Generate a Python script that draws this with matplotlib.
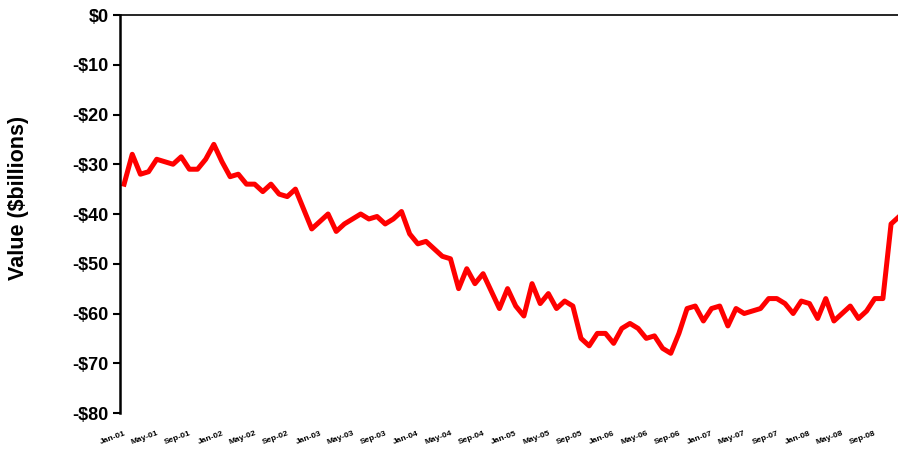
import numpy as np
import matplotlib.pyplot as plt

plt.rcParams['font.family'] = ['Liberation Sans', 'DejaVu Sans']

# monthly values, Jan-01 .. Dec-08 ($ billions)
values = [
    -34, -28, -32, -31.5, -29, -29.5, -30, -28.5, -31, -31, -29, -26,
    -29.5, -32.5, -32, -34, -34, -35.5, -34, -36, -36.5, -35, -39, -43,
    -41.5, -40, -43.5, -42, -41, -40, -41, -40.5, -42, -41, -39.5, -44,
    -46, -45.5, -47, -48.5, -49, -55, -51, -54, -52, -55.5, -59, -55,
    -58.5, -60.5, -54, -58, -56, -59, -57.5, -58.5, -65, -66.5, -64, -64,
    -66, -63, -62, -63, -65, -64.5, -67, -68, -64, -59, -58.5, -61.5,
    -59, -58.5, -62.5, -59, -60, -59.5, -59, -57, -57, -58, -60, -57.5,
    -58, -61, -57, -61.5, -60, -58.5, -61, -59.5, -57, -57, -42, -40.5,
]
months = ['Jan', 'May', 'Sep']
years = ['01', '02', '03', '04', '05', '06', '07', '08']
tick_labels = [f'{m}-{y}' for y in years for m in months]
y_ticks = list(range(0, -90, -10))

x = np.arange(len(values))

fig = plt.figure(figsize=(8.98, 4.5), dpi=100)
ax = fig.add_axes([120 / 898, 1 - 413 / 450, 1 - 120 / 898, 398 / 450])

ax.plot(x, values, color='#ff0000', lw=3.6, solid_joinstyle='round')

ax.set_ylim(-80, 0)
ax.set_xlim(-0.5, 94.85)
ax.set_yticks(y_ticks)
ax.set_yticklabels([f'${v}' if v == 0 else f'-${-v}' for v in y_ticks],
                   fontsize=13, fontweight='bold')
ax.set_xticks(x[::4])
ax.set_xticklabels(tick_labels, fontsize=6, fontweight='bold',
                   rotation=20, ha='right', rotation_mode='anchor')
ax.tick_params(axis='y', direction='out', length=5, width=1.5, pad=3)
ax.tick_params(axis='x', length=0, pad=12)

ax.set_ylabel('Value ($billions)', fontsize=15.5, fontweight='bold')
ax.yaxis.set_label_coords(-0.117, 0.54)

for s in ['right', 'bottom']:
    ax.spines[s].set_visible(False)
ax.spines['left'].set_linewidth(1.8)
ax.spines['top'].set_linewidth(1.2)

fig.savefig('out.png', dpi=100)
